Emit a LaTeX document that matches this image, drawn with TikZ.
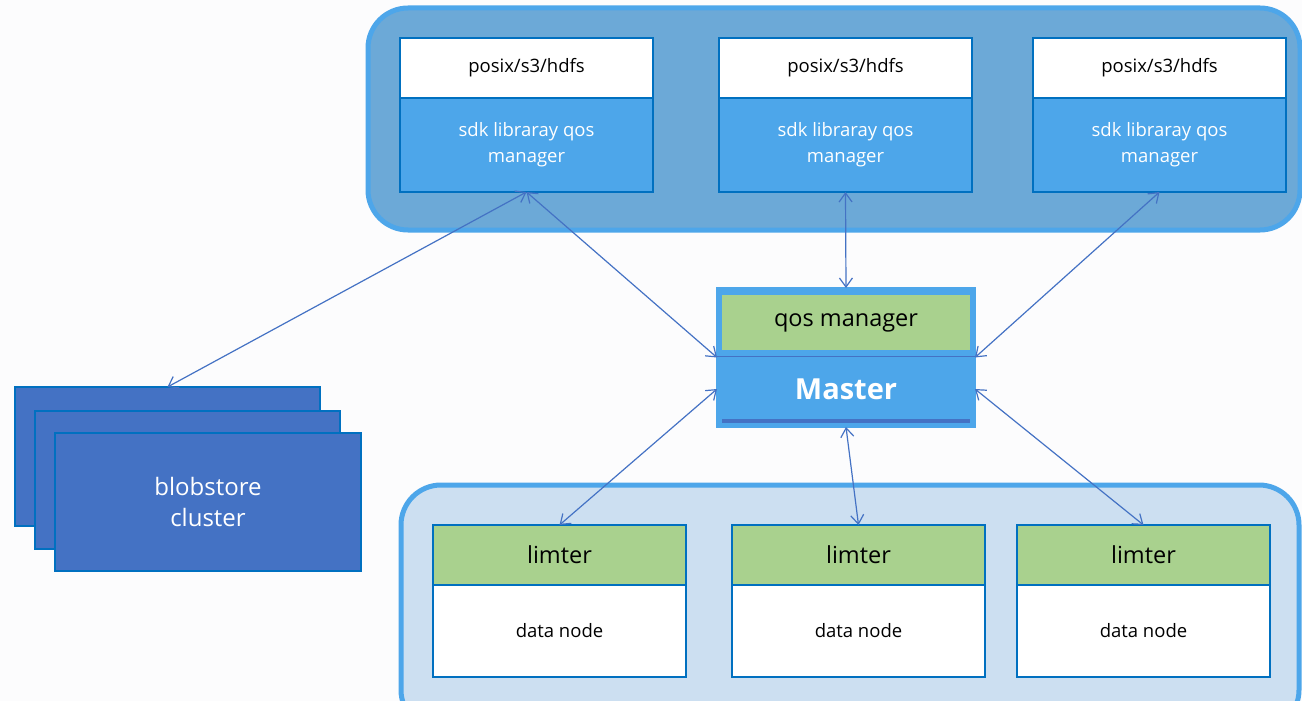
\documentclass[tikz,border=0pt]{standalone}
\usepackage{fontspec}
\setmainfont{Open Sans}
\usetikzlibrary{arrows.meta}

\definecolor{bgc}{HTML}{FCFCFD}
\definecolor{frameblue}{HTML}{4DA6EA}
\definecolor{topfill}{HTML}{6CA9D7}
\definecolor{botfill}{HTML}{CCDFF1}
\definecolor{boxedge}{HTML}{0070C0}
\definecolor{sdkblue}{HTML}{4DA6EA}
\definecolor{linkblue}{HTML}{4472C4}
\definecolor{limgreen}{HTML}{A9D18E}
\definecolor{blobfill}{HTML}{4472C4}

\tikzset{
  fs/.style 2 args={font=\fontsize{#1}{#2}\selectfont},
  cell/.style={draw=boxedge, line width=2.5pt, inner sep=0pt, outer sep=0pt,
               minimum width=253pt, align=center},
  whitecell/.style={cell, fill=white, text=black},
  sdkcell/.style={cell, fill=sdkblue, text=white, minimum height=94pt, fs={18.5}{26}},
  apicell/.style={whitecell, minimum height=60pt, fs={18.5}{22}},
  limcell/.style={cell, fill=limgreen, text=black, minimum height=60pt, fs={23.5}{28}},
  datacell/.style={whitecell, minimum height=92pt, fs={18.5}{22}},
  container/.style={draw=frameblue, line width=5pt, rounded corners=40pt},
  blobsheet/.style={draw=boxedge, line width=2.5pt, fill=blobfill},
  link/.style={draw=linkblue, line width=1.2pt,
               {Straight Barb[length=9pt,width=13pt]}-{Straight Barb[length=9pt,width=13pt]}}
}

\begin{document}
\begin{tikzpicture}[x=1pt, y=-1pt]
  \useasboundingbox (0,0) rectangle (1302,701);
  \fill[bgc] (0,0) rectangle (1302,701);
  \clip (0,0) rectangle (1302,701);

  % client tier container
  \draw[container, fill=topfill] (368,8) rectangle (1300,230);
  % data tier container
  \draw[container, fill=botfill] (401,485) rectangle (1299,730);

  % client stacks: protocol layer over sdk qos manager
  \foreach \i/\cx in {1/526.5, 2/845.5, 3/1159.5} {
    \node[apicell] (api\i) at (\cx,68) {\raisebox{-3pt}{posix/s3/hdfs}};
    \node[sdkcell] (sdk\i) at (\cx,145) {\raisebox{-2pt}{sdk libraray qos}\\\raisebox{-2pt}{manager}};
  }

  % master with its qos manager
  \node[draw=frameblue, fill=sdkblue, line width=2pt, minimum width=258pt,
        minimum height=139pt, inner sep=0pt, outer sep=0pt] (master) at (846,357.5) {};
  \node[fill=limgreen, minimum width=248pt, minimum height=55pt, inner sep=0pt,
        fs={23.5}{28}] (qos) at (846,322.5) {qos manager};
  \draw[linkblue, line width=1pt] (master.west |- 0,356) -- (master.east |- 0,356);
  \node[minimum width=258pt, minimum height=66pt, inner sep=0pt, outer sep=0pt,
        text=white, font=\fontsize{29}{34}\selectfont\bfseries] (core) at (846,389) {Master};
  \draw[linkblue, line width=3.5pt] (722,421) -- (970,421);

  % data nodes with their limiters
  \foreach \i/\cx in {1/559.5, 2/858.5, 3/1143.5} {
    \node[limcell] (lim\i) at (\cx,555) {limter};
    \node[datacell] (dn\i) at (\cx,631) {\raisebox{-2pt}{data node}};
  }

  % blobstore cluster, drawn as a stack of sheets
  \draw[blobsheet] (15,387) rectangle (320,526);
  \draw[blobsheet] (35,411) rectangle (340,549);
  \node[blobsheet, minimum width=306pt, minimum height=138pt, inner sep=0pt,
        outer sep=0pt, text=white, align=center, fs={24}{31}] (blobfront) at (208,502)
        {blobstore\\cluster};
  \coordinate (blob) at (167.5,387);

  % control links
  \draw[link] (sdk1.south) -- (blob);
  \draw[link] (sdk1.south) -- (master.west);
  \draw[link] (sdk2.south) -- (master.north);
  \draw[link] (sdk3.south) -- (master.east);
  \draw[link] (core.west) -- (lim1.north);
  \draw[link] (master.south) -- (lim2.north);
  \draw[link] (core.east) -- (lim3.north);
\end{tikzpicture}
\end{document}
